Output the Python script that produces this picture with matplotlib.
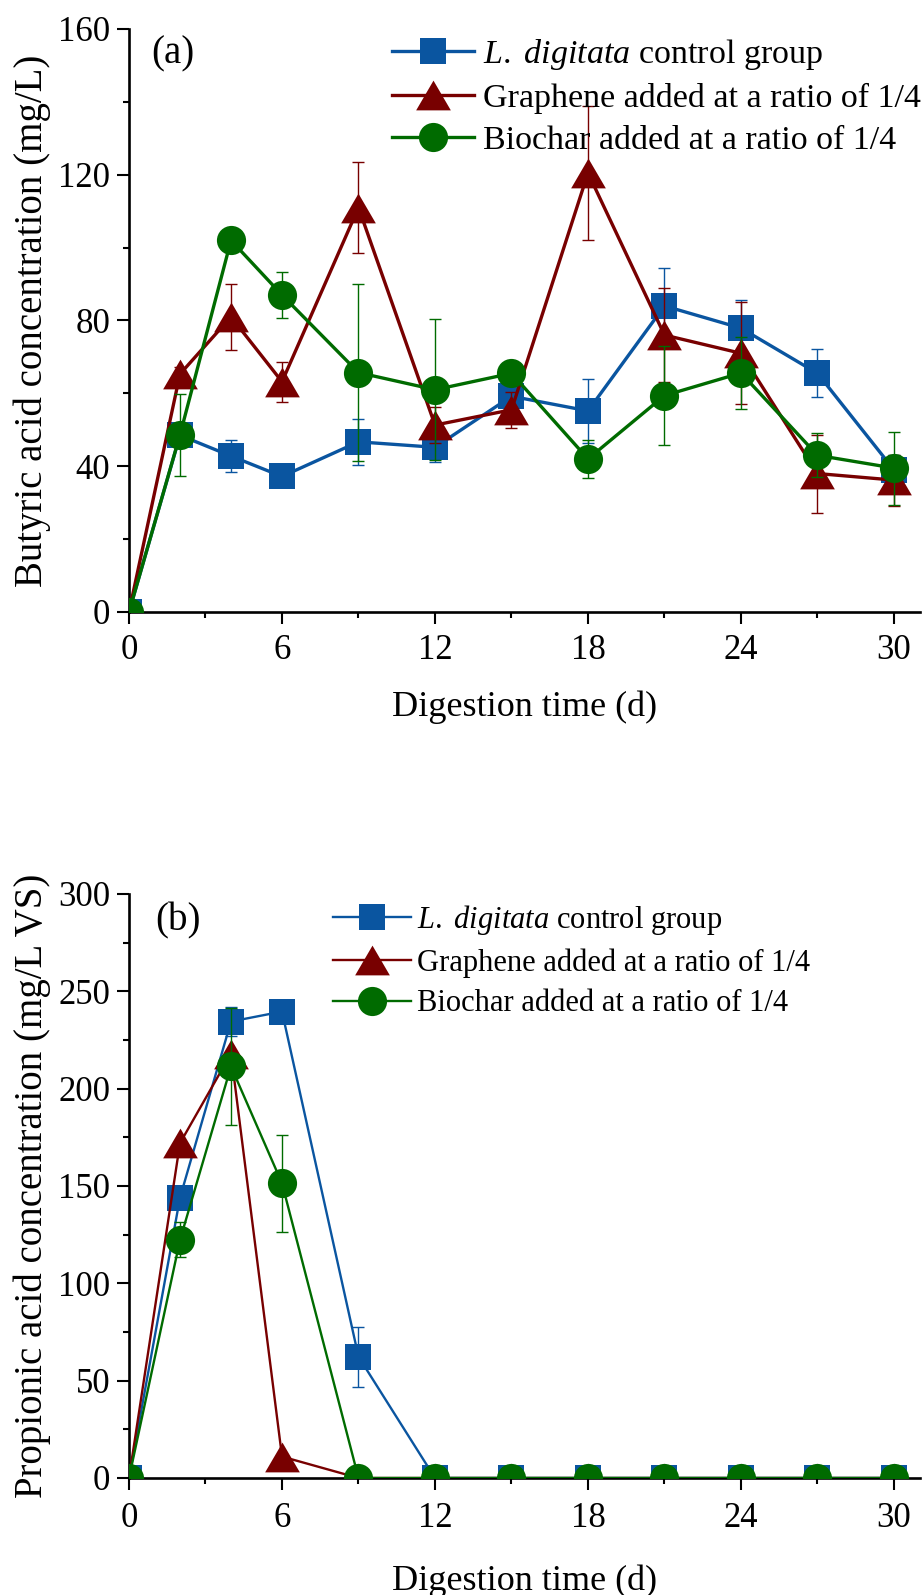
import matplotlib
matplotlib.use("Agg")
import matplotlib.pyplot as plt
from matplotlib.ticker import MultipleLocator
import numpy as np

plt.rcParams['font.family'] = ['Liberation Serif', 'DejaVu Serif']
plt.rcParams['mathtext.fontset'] = 'custom'
plt.rcParams['mathtext.rm'] = 'Liberation Serif'
plt.rcParams['mathtext.it'] = 'Liberation Serif:italic'

# ---------------- data ----------------
days = [0, 2, 4, 6, 9, 12, 15, 18, 21, 24, 27, 30]
labels = [r'$\mathit{L.\ digitata}$ control group',
          'Graphene added at a ratio of 1/4',
          'Biochar added at a ratio of 1/4']

# (a) butyric acid (mg/L)
but_ctrl = [0, 48.5, 42.8, 37.2, 46.7, 45.2, 59.2, 55.2, 84, 77.9, 65.5, 39]
but_ctrl_err = [0, 2, 4.4, 0, 6.4, 4, 3, 8.8, 10.5, 7.7, 6.6, 4]
but_gra = [0, 65.3, 81, 63.2, 111, 51.3, 55.5, 120.5, 76, 71, 38, 36.2]
but_gra_err = [0, 2, 9, 5.5, 12.5, 5, 5, 18.5, 13, 14, 10.7, 7]
but_bio = [0, 48.6, 102, 87, 65.7, 61, 65.5, 42, 59.4, 65.6, 43, 39.5]
but_bio_err = [0, 11.3, 0, 6.3, 24.3, 19.3, 0, 5.2, 13.5, 10, 6, 10]

# (b) propionic acid (mg/L VS)
pro_ctrl = [0, 144, 234.5, 239.6, 62.3, 0, 0, 0, 0, 0, 0, 0]
pro_ctrl_err = [0, 3, 7.5, 0, 15.5, 0, 0, 0, 0, 0, 0, 0]
pro_gra = [0, 172, 218, 11, 0, 0, 0, 0, 0, 0, 0, 0]
pro_gra_err = [0, 0, 0, 0, 0, 0, 0, 0, 0, 0, 0, 0]
pro_bio = [0, 122.3, 211.4, 151.4, 0, 0, 0, 0, 0, 0, 0, 0]
pro_bio_err = [0, 9, 30, 25, 0, 0, 0, 0, 0, 0, 0, 0]

colors = ['#0A55A0', '#780000', '#006B00']
tri = [(-1, -0.857), (1, -0.857), (0, 0.857)]
markers = ['s', tri, 'o']
msizes = [18.5, 25, 21]

fig = plt.figure(figsize=(9.22, 15.95), dpi=100)
axA = fig.add_axes([129/922, 1 - 612/1595, 791/922, 583/1595])
axB = fig.add_axes([129/922, 1 - 1478/1595, 791/922, 584/1595])


def draw(ax, series, errs, lw):
    x = np.array(days, dtype=float)
    for i, (y, e) in enumerate(zip(series, errs)):
        y = np.array(y, dtype=float)
        e = np.array(e, dtype=float)
        m = e > 0
        if m.any():
            ax.errorbar(x[m], y[m], yerr=e[m], fmt='none', ecolor=colors[i],
                        elinewidth=1.0, capsize=4.3, capthick=1.0, zorder=2 + i)
        ax.plot(x, y, color=colors[i], lw=lw, marker=markers[i],
                ms=msizes[i], mfc=colors[i], mec=colors[i], mew=0,
                label=labels[i], zorder=2 + i)


draw(axA, [but_ctrl, but_gra, but_bio], [but_ctrl_err, but_gra_err, but_bio_err], 2.4)
draw(axB, [pro_ctrl, pro_gra, pro_bio], [pro_ctrl_err, pro_gra_err, pro_bio_err], 1.7)

for ax, ymax, ystep, ylabel, xpad, xlp in [
        (axA, 160, 40, 'Butyric acid concentration (mg/L)', 7, 17),
        (axB, 300, 50, 'Propionic acid concentration (mg/L VS)', 9, 21)]:
    ax.set_xlim(0, 31.02)
    ax.set_ylim(0, ymax)
    ax.xaxis.set_major_locator(MultipleLocator(6))
    ax.xaxis.set_minor_locator(MultipleLocator(3))
    ax.yaxis.set_major_locator(MultipleLocator(ystep))
    ax.yaxis.set_minor_locator(MultipleLocator(ystep / 2))
    for s in ['top', 'right']:
        ax.spines[s].set_visible(False)
    for s in ['left', 'bottom']:
        ax.spines[s].set_linewidth(1.9)
    ax.tick_params(which='major', direction='out', length=8.5, width=1.5, labelsize=25)
    ax.tick_params(which='minor', direction='out', length=4.3, width=1.5)
    ax.tick_params(axis='x', which='major', pad=xpad)
    ax.tick_params(axis='y', which='major', pad=5)
    ax.set_xlabel('Digestion time (d)', fontsize=26, labelpad=xlp)
    ax.set_ylabel(ylabel, fontsize=28, labelpad=5)

axA.text(0.056, 0.957, '(a)', transform=axA.transAxes, fontsize=28,
         ha='center', va='center')
axB.text(0.062, 0.954, '(b)', transform=axB.transAxes, fontsize=28,
         ha='center', va='center')

axA.legend(loc='upper left', bbox_to_anchor=(0.3325, 0.987), frameon=False,
           fontsize=24.5, handlelength=2.4, handletextpad=0.27, labelspacing=0.33,
           borderpad=0, borderaxespad=0, numpoints=1)
axB.legend(loc='upper left', bbox_to_anchor=(0.258, 0.985), frameon=False,
           fontsize=22, handlelength=2.55, handletextpad=0.2, labelspacing=0.38,
           borderpad=0, borderaxespad=0, numpoints=1)

fig.savefig('out.png', dpi=100)
